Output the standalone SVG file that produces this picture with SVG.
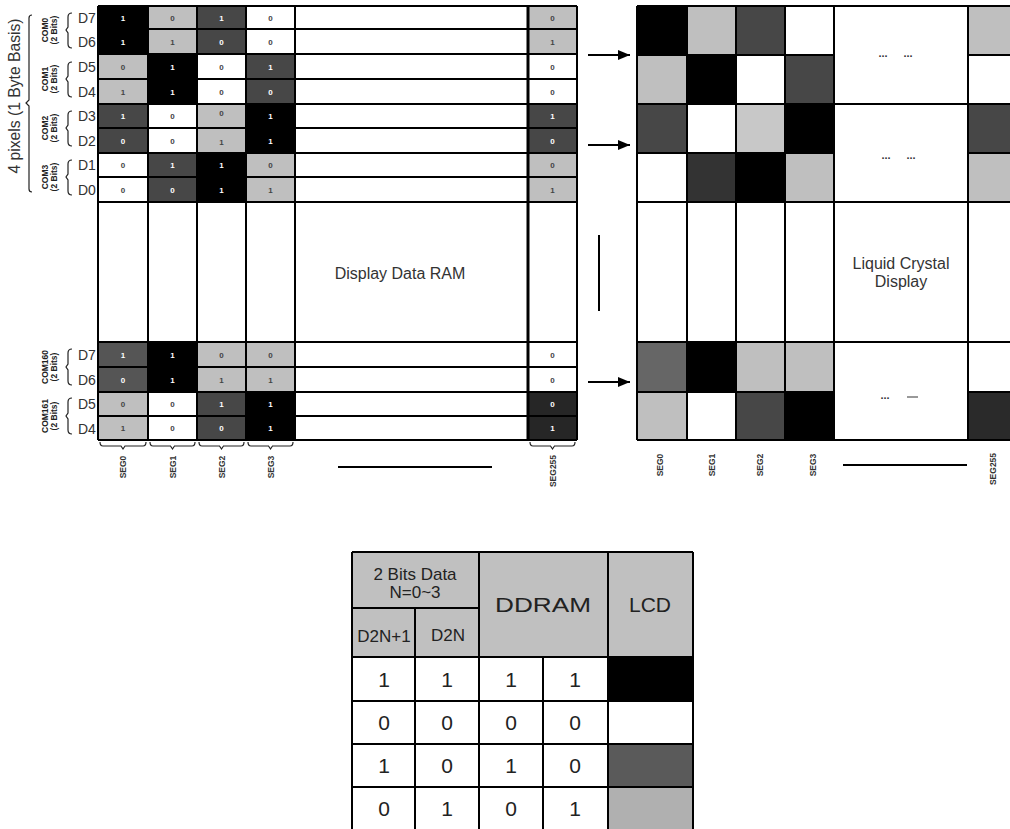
<svg xmlns="http://www.w3.org/2000/svg" width="1010" height="829" viewBox="0 0 1010 829">
<defs>
<marker id="ah" markerWidth="12" markerHeight="10" refX="12" refY="5" orient="auto" markerUnits="userSpaceOnUse"><path d="M0,0 L12,5 L0,10 z" fill="#000"/></marker>
</defs>
<style>
text{font-family:"Liberation Sans",Arial,sans-serif}
.k{fill:#000}.l{fill:#bfbfbf}.d{fill:#474747}
.g{stroke:#000;stroke-width:2;fill:none}
.br{stroke:#222;stroke-width:1.2;fill:none}
.cw{fill:#fff;font-size:8px;font-weight:bold;text-anchor:middle}
.cb{fill:#444;font-size:8px;font-weight:bold;text-anchor:middle}
.dl{font-size:14px;fill:#333}
.com{font-size:8.5px;font-weight:bold;text-anchor:middle;fill:#222}
.seg{font-size:8.5px;font-weight:bold;text-anchor:middle;fill:#333}
.big{font-size:16px;fill:#333;text-anchor:middle}
.dots{font-size:11px;font-weight:bold;fill:#333;text-anchor:middle}
.th{font-size:17px;fill:#222;text-anchor:middle}
.tn{font-size:21px;fill:#222;text-anchor:middle}
.arr{stroke:#000;stroke-width:2;fill:none;marker-end:url(#ah)}
</style>
<rect width="1010" height="829" fill="#fff"/>

<g id="labels-left">
<path class="br" d="M32,15 Q29,15 29,18 V100 L26,103 L29,106 V189 Q29,192 32,192"/>
<text class="big" font-size="15" transform="translate(20,96) rotate(-90)" textLength="155" lengthAdjust="spacingAndGlyphs">4 pixels (1 Byte Basis)</text>
<text class="com" transform="translate(48,30) rotate(-90)">COM0</text>
<text class="com" transform="translate(57,30) rotate(-90)">(2 Bits)</text>
<text class="com" transform="translate(48,79) rotate(-90)">COM1</text>
<text class="com" transform="translate(57,79) rotate(-90)">(2 Bits)</text>
<text class="com" transform="translate(48,128) rotate(-90)">COM2</text>
<text class="com" transform="translate(57,128) rotate(-90)">(2 Bits)</text>
<text class="com" transform="translate(48,177) rotate(-90)">COM3</text>
<text class="com" transform="translate(57,177) rotate(-90)">(2 Bits)</text>
<text class="com" transform="translate(48,367) rotate(-90)">COM160</text>
<text class="com" transform="translate(57,367) rotate(-90)">(2 Bits)</text>
<text class="com" transform="translate(48,416) rotate(-90)">COM161</text>
<text class="com" transform="translate(57,416) rotate(-90)">(2 Bits)</text>
<path class="br" d="M72,13 Q68,13 68,17 V27 L66,30 L68,33 V44 Q68,48 72,48"/>
<path class="br" d="M72,62 Q68,62 68,66 V76 L66,79 L68,82 V93 Q68,97 72,97"/>
<path class="br" d="M72,111 Q68,111 68,115 V125 L66,128 L68,131 V142 Q68,146 72,146"/>
<path class="br" d="M72,160 Q68,160 68,164 V174 L66,177 L68,180 V191 Q68,195 72,195"/>
<path class="br" d="M72,349 Q68,349 68,353 V364 L66,367 L68,370 V381 Q68,385 72,385"/>
<path class="br" d="M72,398 Q68,398 68,402 V413 L66,416 L68,419 V430 Q68,434 72,434"/>
<text class="dl" x="78" y="23">D7</text>
<text class="dl" x="78" y="47">D6</text>
<text class="dl" x="78" y="72">D5</text>
<text class="dl" x="78" y="97">D4</text>
<text class="dl" x="78" y="121">D3</text>
<text class="dl" x="78" y="146">D2</text>
<text class="dl" x="78" y="170">D1</text>
<text class="dl" x="78" y="195">D0</text>
<text class="dl" x="78" y="360">D7</text>
<text class="dl" x="78" y="385">D6</text>
<text class="dl" x="78" y="409">D5</text>
<text class="dl" x="78" y="434">D4</text>
</g>

<g id="ddram">
<rect class="k" x="98" y="6" width="50" height="48"/>
<rect class="l" x="148" y="6" width="49" height="48"/>
<rect class="d" x="197" y="6" width="49" height="48"/>
<rect class="l" x="528" y="6" width="49" height="48"/>
<rect class="l" x="98" y="54" width="50" height="50"/>
<rect class="k" x="148" y="54" width="49" height="50"/>
<rect class="d" x="246" y="54" width="49" height="50"/>
<rect class="d" x="98" y="104" width="50" height="49"/>
<rect class="l" x="197" y="104" width="49" height="49"/>
<rect class="k" x="246" y="104" width="49" height="49"/>
<rect class="d" x="528" y="104" width="49" height="49"/>
<rect class="d" x="148" y="153" width="49" height="49"/>
<rect class="k" x="197" y="153" width="49" height="49"/>
<rect class="l" x="246" y="153" width="49" height="49"/>
<rect class="l" x="528" y="153" width="49" height="49"/>
<rect fill="#555" x="98" y="342" width="50" height="50"/>
<rect class="k" x="148" y="342" width="49" height="50"/>
<rect class="l" x="197" y="342" width="49" height="50"/>
<rect class="l" x="246" y="342" width="49" height="50"/>
<rect class="l" x="98" y="392" width="50" height="48"/>
<rect class="d" x="197" y="392" width="49" height="48"/>
<rect class="k" x="246" y="392" width="49" height="48"/>
<rect fill="#262626" x="528" y="392" width="49" height="48"/>
<path class="g" d="M98,6 H577 M98,29 H577 M98,54 H577 M98,79 H577 M98,104 H577 M98,128 H577 M98,153 H577 M98,177 H577 M98,202 H577 M98,342 H577 M98,367 H577 M98,392 H577 M98,416 H577 M98,440 H577 M98,6 V440 M148,6 V440 M197,6 V440 M246,6 V440 M295,6 V440 M577,6 V440"/>
<path d="M528,6 V440" stroke="#000" stroke-width="3"/>
<text class="cw" x="123" y="20.5">1</text><text class="cb" x="172.5" y="20.5">0</text><text class="cw" x="221.5" y="20.5">1</text><text class="cb" x="270.5" y="20.5">0</text><text class="cb" x="552.5" y="20.5">0</text>
<text class="cw" x="123" y="44.5">1</text><text class="cb" x="172.5" y="44.5">1</text><text class="cw" x="221.5" y="44.5">0</text><text class="cb" x="270.5" y="44.5">0</text><text class="cb" x="552.5" y="44.5">1</text>
<text class="cb" x="123" y="69.5">0</text><text class="cw" x="172.5" y="69.5">1</text><text class="cb" x="221.5" y="69.5">0</text><text class="cw" x="270.5" y="69.5">1</text><text class="cb" x="552.5" y="69.5">0</text>
<text class="cb" x="123" y="94.5">1</text><text class="cw" x="172.5" y="94.5">1</text><text class="cb" x="221.5" y="94.5">0</text><text class="cw" x="270.5" y="94.5">0</text><text class="cb" x="552.5" y="94.5">0</text>
<text class="cw" x="123" y="119">1</text><text class="cb" x="172.5" y="119">0</text><text class="cb" x="221.5" y="116">0</text><text class="cw" x="270.5" y="119">1</text><text class="cw" x="552.5" y="119">1</text>
<text class="cw" x="123" y="143.5">0</text><text class="cb" x="172.5" y="143.5">0</text><text class="cb" x="221.5" y="145">1</text><text class="cw" x="270.5" y="143.5">1</text><text class="cw" x="552.5" y="143.5">0</text>
<text class="cb" x="123" y="168">0</text><text class="cw" x="172.5" y="168">1</text><text class="cw" x="221.5" y="168">1</text><text class="cb" x="270.5" y="168">0</text><text class="cb" x="552.5" y="168">0</text>
<text class="cb" x="123" y="192.5">0</text><text class="cw" x="172.5" y="192.5">0</text><text class="cw" x="221.5" y="192.5">1</text><text class="cb" x="270.5" y="192.5">1</text><text class="cb" x="552.5" y="192.5">1</text>
<text class="cw" x="123" y="357.5">1</text><text class="cw" x="172.5" y="357.5">1</text><text class="cb" x="221.5" y="357.5">0</text><text class="cb" x="270.5" y="357.5">0</text><text class="cb" x="552.5" y="357.5">0</text>
<text class="cw" x="123" y="382.5">0</text><text class="cw" x="172.5" y="382.5">1</text><text class="cb" x="221.5" y="382.5">1</text><text class="cb" x="270.5" y="382.5">1</text><text class="cb" x="552.5" y="382.5">0</text>
<text class="cb" x="123" y="407">0</text><text class="cb" x="172.5" y="407">0</text><text class="cw" x="221.5" y="407">1</text><text class="cw" x="270.5" y="407">1</text><text class="cw" x="552.5" y="407">0</text>
<text class="cb" x="123" y="431">1</text><text class="cb" x="172.5" y="431">0</text><text class="cw" x="221.5" y="431">0</text><text class="cw" x="270.5" y="431">1</text><text class="cw" x="552.5" y="431">1</text>
<text class="big" x="400" y="279" font-size="16.5">Display Data RAM</text>
<path class="br" d="M100,442 Q100,446 103,446 H121 L123,449 L125,446 H143 Q146,446 146,442"/>
<path class="br" d="M150,442 Q150,446 153,446 H170.5 L172.5,449 L174.5,446 H192 Q195,446 195,442"/>
<path class="br" d="M199,442 Q199,446 202,446 H219.5 L221.5,449 L223.5,446 H241 Q244,446 244,442"/>
<path class="br" d="M248,442 Q248,446 251,446 H268.5 L270.5,449 L272.5,446 H290 Q293,446 293,442"/>
<path class="br" d="M530,442 Q530,446 533,446 H550.5 L552.5,449 L554.5,446 H572 Q575,446 575,442"/>
<text class="seg" transform="translate(126,467) rotate(-90)">SEG0</text>
<text class="seg" transform="translate(175.5,467) rotate(-90)">SEG1</text>
<text class="seg" transform="translate(224.5,467) rotate(-90)">SEG2</text>
<text class="seg" transform="translate(273.5,467) rotate(-90)">SEG3</text>
<text class="seg" transform="translate(555.5,471) rotate(-90)">SEG255</text>
<path d="M338,467 H492" stroke="#000" stroke-width="2"/>
</g>

<g id="connectors">
<path class="arr" d="M588,55 H630"/>
<path class="arr" d="M588,145 H630"/>
<path class="arr" d="M588,382 H630"/>
<path d="M599,235 V311" stroke="#000" stroke-width="2"/>
</g>

<g id="lcd">
<rect class="k" x="637" y="6" width="50" height="49"/>
<rect class="l" x="687" y="6" width="49" height="49"/>
<rect class="d" x="736" y="6" width="49" height="49"/>
<rect class="l" x="968" y="6" width="44" height="49"/>
<rect class="l" x="637" y="55" width="50" height="49"/>
<rect class="k" x="687" y="55" width="49" height="49"/>
<rect class="d" x="785" y="55" width="49" height="49"/>
<rect class="d" x="637" y="104" width="50" height="49"/>
<rect fill="#c8c8c8" x="736" y="104" width="49" height="49"/>
<rect class="k" x="785" y="104" width="49" height="49"/>
<rect class="d" x="968" y="104" width="44" height="49"/>
<rect fill="#333" x="687" y="153" width="49" height="49"/>
<rect class="k" x="736" y="153" width="49" height="49"/>
<rect class="l" x="785" y="153" width="49" height="49"/>
<rect class="l" x="968" y="153" width="44" height="49"/>
<rect fill="#666" x="637" y="342" width="50" height="50"/>
<rect class="k" x="687" y="342" width="49" height="50"/>
<rect class="l" x="736" y="342" width="49" height="50"/>
<rect class="l" x="785" y="342" width="49" height="50"/>
<rect class="l" x="637" y="392" width="50" height="48"/>
<rect class="d" x="736" y="392" width="49" height="48"/>
<rect class="k" x="785" y="392" width="49" height="48"/>
<rect fill="#2a2a2a" x="968" y="392" width="44" height="48"/>
<path class="g" d="M637,6 H1012 M637,55 H834 M968,55 H1012 M637,104 H1012 M637,153 H834 M968,153 H1012 M637,202 H1012 M637,342 H1012 M637,392 H834 M968,392 H1012 M637,440 H1012 M637,6 V440 M687,6 V440 M736,6 V440 M785,6 V440 M834,6 V440 M968,6 V440"/>
<text class="dots" x="883" y="57">...</text><text class="dots" x="908" y="57">...</text>
<text class="dots" x="886" y="159">...</text><text class="dots" x="911" y="159">...</text>
<text class="dots" x="885" y="399">...</text><path d="M907,397 H918" stroke="#555" stroke-width="1.2"/>
<text class="big" x="901" y="269" font-size="15.5">Liquid Crystal</text>
<text class="big" x="901" y="287" font-size="15.5">Display</text>
<text class="seg" transform="translate(663,465) rotate(-90)">SEG0</text>
<text class="seg" transform="translate(715,465) rotate(-90)">SEG1</text>
<text class="seg" transform="translate(763,465) rotate(-90)">SEG2</text>
<text class="seg" transform="translate(816,465) rotate(-90)">SEG3</text>
<text class="seg" transform="translate(996,469) rotate(-90)">SEG255</text>
<path d="M843,465 H967" stroke="#000" stroke-width="2"/>
</g>

<g id="table">
<rect x="352" y="552" width="341" height="105" fill="#c0c0c0"/>
<rect x="608" y="657" width="85" height="44" fill="#000"/>
<rect x="608" y="744" width="85" height="43" fill="#5a5a5a"/>
<rect x="608" y="787" width="85" height="43" fill="#b0b0b0"/>
<path class="g" d="M352,552 H693 M352,608 H479 M352,657 H693 M352,701 H693 M352,744 H693 M352,787 H693 M352,830 H693 M352,552 V830 M415,608 V830 M479,552 V830 M543,657 V830 M608,552 V830 M693,552 V830"/>
<text class="th" x="415" y="580">2 Bits Data</text>
<text class="th" x="415" y="598">N=0~3</text>
<text class="th" x="384" y="642" font-size="16.5">D2N+1</text>
<text class="th" x="448" y="641">D2N</text>
<text class="tn" x="543" y="612" font-size="22" textLength="96" lengthAdjust="spacingAndGlyphs">DDRAM</text>
<text class="tn" x="650" y="612" font-size="22">LCD</text>
<text class="tn" x="384" y="687">1</text><text class="tn" x="447" y="687">1</text><text class="tn" x="511" y="687">1</text><text class="tn" x="575" y="687">1</text>
<text class="tn" x="384" y="730">0</text><text class="tn" x="447" y="730">0</text><text class="tn" x="511" y="730">0</text><text class="tn" x="575" y="730">0</text>
<text class="tn" x="384" y="773">1</text><text class="tn" x="447" y="773">0</text><text class="tn" x="511" y="773">1</text><text class="tn" x="575" y="773">0</text>
<text class="tn" x="384" y="816">0</text><text class="tn" x="447" y="816">1</text><text class="tn" x="511" y="816">0</text><text class="tn" x="575" y="816">1</text>
</g>
</svg>
